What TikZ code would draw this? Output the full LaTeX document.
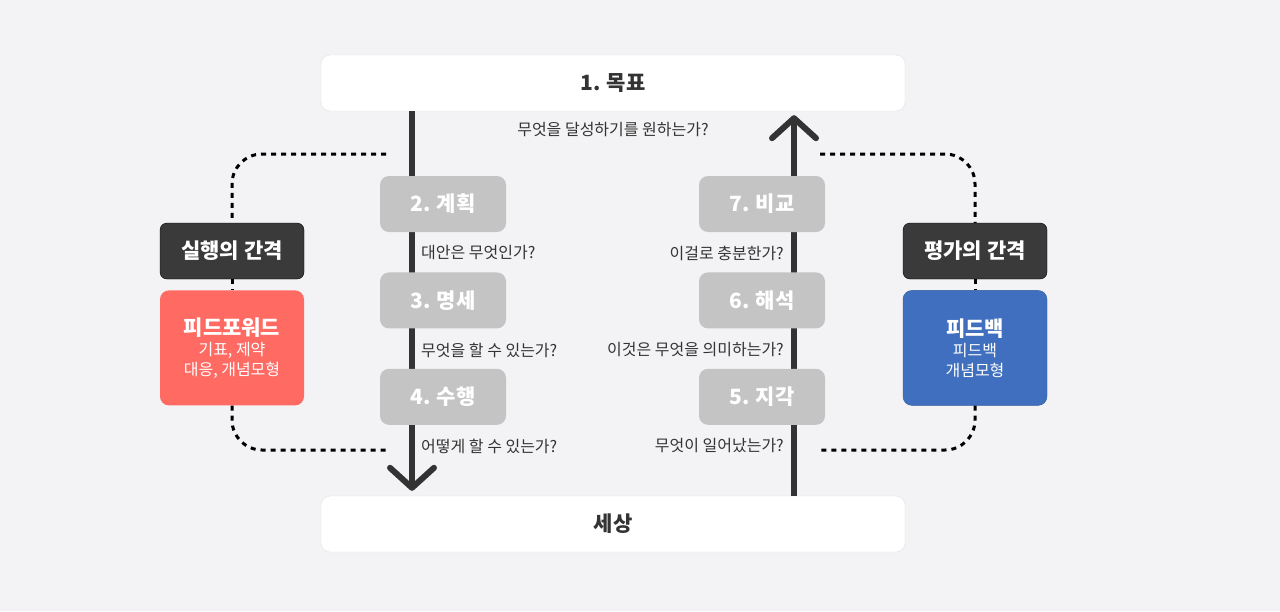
\documentclass[tikz,border=0pt]{standalone}
\usepackage{fontspec}
\setmainfont{Noto Sans CJK KR}
\usetikzlibrary{arrows.meta, positioning, calc}
\definecolor{pagebg}{RGB}{243,243,245}
\definecolor{ink}{RGB}{51,51,51}
\definecolor{stepgray}{RGB}{196,196,196}
\definecolor{gapdark}{RGB}{58,58,58}
\definecolor{ffred}{RGB}{255,106,99}
\definecolor{fbblue}{RGB}{63,111,190}
\definecolor{boxline}{RGB}{226,226,229}
\newcommand\boxfont{\fontsize{21}{25}\selectfont}
\newcommand\askfont{\fontsize{16}{20}\selectfont}

\begin{document}
\begin{tikzpicture}[x=1pt, y=-1pt,
  endbox/.style={draw=boxline, fill=white, rounded corners=9pt, minimum width=584pt, minimum height=56pt, text=ink, font=\boxfont\bfseries},
  stepbox/.style={fill=stepgray, rounded corners=9pt, minimum width=126pt, minimum height=56pt, text=white, font=\boxfont\bfseries},
  gapbox/.style={fill=gapdark, draw=black, rounded corners=7pt, minimum width=144pt, minimum height=56pt, text=white, font=\boxfont\bfseries},
  aidbox/.style={rounded corners=9pt, minimum width=144pt, minimum height=115pt, text=white, align=center, font=\askfont},
  ask/.style={text=ink, font=\askfont, inner sep=0pt},
  flow/.style={line width=6pt, ink},
  gapline/.style={line width=3pt, dash pattern=on 5pt off 5pt, black, rounded corners=30pt}]
  \fill[pagebg] (0,0) rectangle (1280,611);
  % goal and world
  \node[endbox] (goal) at (613,83) {1. 목표};
  \node[endbox] (world) at (613,524) {세상};
  \coordinate (lx) at (412,0);
  \coordinate (rx) at (794,0);
  \draw[flow, -{Straight Barb[length=20pt, width=44pt, round]}, shorten >=5pt] (goal.south -| lx) -- (world.north -| lx);
  \draw[flow, -{Straight Barb[length=20pt, width=44pt, round]}, shorten >=4pt] (world.north -| rx) -- (goal.south -| rx);
  \node[ask] (qgoal) at (613,130) {무엇을 달성하기를 원하는가?};
  % execution side
  \node[stepbox] (plan) at (443,204) {2. 계획};
  \node[stepbox, below=40pt of plan] (spec) {3. 명세};
  \node[stepbox, below=40pt of spec] (act) {4. 수행};
  \node[ask, anchor=west] (qplan) at (421,253) {대안은 무엇인가?};
  \node[ask, anchor=west] (qspec) at (421,350) {무엇을 할 수 있는가?};
  \node[ask, anchor=west] (qact) at (421,446) {어떻게 할 수 있는가?};
  % evaluation side
  \node[stepbox] (compare) at (762,204) {7. 비교};
  \node[stepbox, below=40pt of compare] (interp) {6. 해석};
  \node[stepbox, below=40pt of interp] (perceive) {5. 지각};
  \node[ask, anchor=east] (qcompare) at (784,253) {이걸로 충분한가?};
  \node[ask, anchor=east] (qinterp) at (784,350) {이것은 무엇을 의미하는가?};
  \node[ask, anchor=east] (qperceive) at (784,446) {무엇이 일어났는가?};
  % gaps
  \node[gapbox] (exec) at (232,251) {실행의 간격};
  \node[aidbox, fill=ffred, below=11pt of exec] (ff) {{\boxfont\bfseries 피드포워드}\\[0pt] 기표, 제약\\ 대응, 개념모형};
  \node[gapbox] (eval) at (975,251) {평가의 간격};
  \node[aidbox, fill=fbblue, draw=fbblue!80!black, below=11pt of eval] (fb) {{\boxfont\bfseries 피드백}\\[0pt] 피드백\\ 개념모형};
  \coordinate (ltop) at (386,154);
  \coordinate (lbot) at (386,450);
  \coordinate (rtop) at (820,154);
  \coordinate (rbot) at (820,450);
  \draw[gapline] (ltop) -| (exec.north);
  \draw[gapline] (exec.south) -- (ff.north);
  \draw[gapline] (ff.south) |- (lbot);
  \draw[gapline] (rtop) -| (eval.north);
  \draw[gapline] (eval.south) -- (fb.north);
  \draw[gapline] (fb.south) |- (rbot);
\end{tikzpicture}
\end{document}
